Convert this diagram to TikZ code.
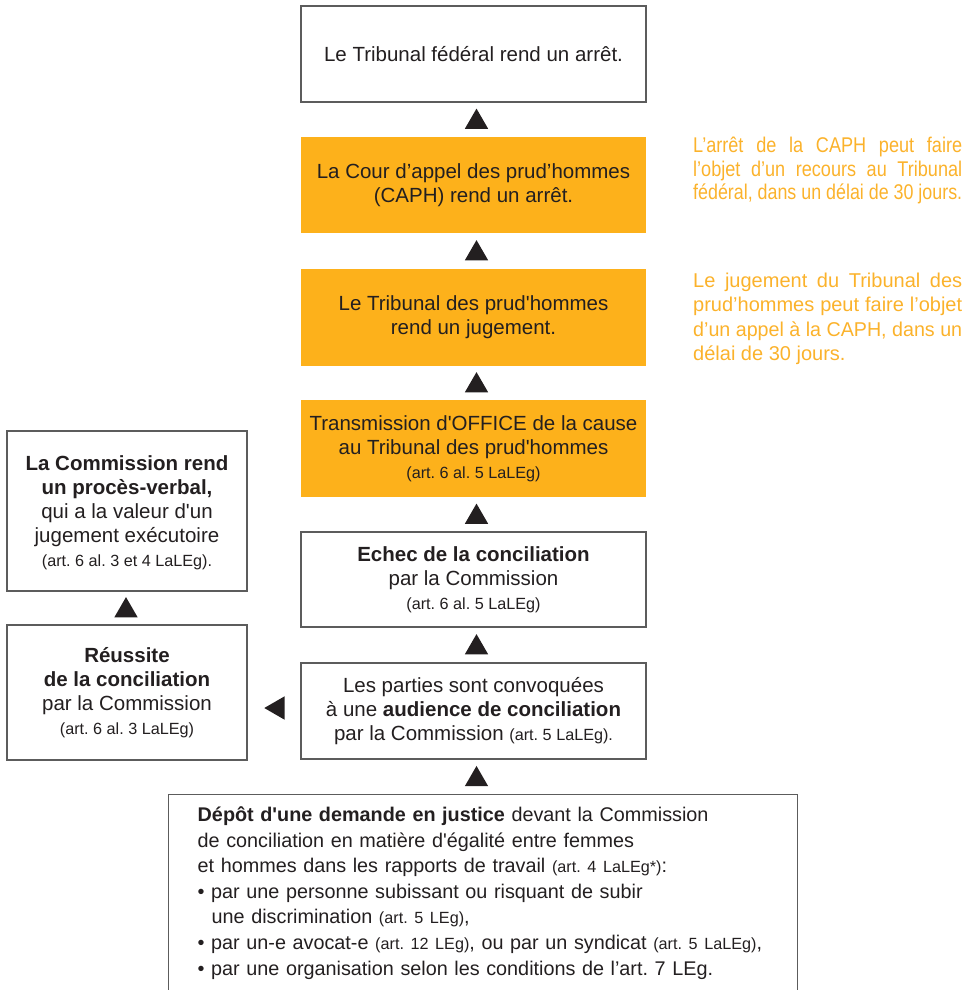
\documentclass[tikz,border=0pt]{standalone}
\usepackage{fontspec}
\usepackage{graphicx}
\setmainfont{Liberation Sans}
\newfontfamily\basefont{Liberation Sans}
\newfontfamily\condfont[FakeStretch=0.85]{Liberation Sans}
\usetikzlibrary{shapes.geometric}
\definecolor{orfill}{HTML}{FDB11B}
\definecolor{ortext}{HTML}{FBB22B}
\definecolor{bord}{HTML}{5C5C5C}
\definecolor{ink}{HTML}{231F20}
\newcommand\sm[1]{{\fontsize{16.2}{24}\selectfont #1}}
\newcommand\jl[1]{\setbox0\hbox{#1}\ifdim\wd0>\linewidth\resizebox{\linewidth}{\height}{#1}\else\makebox[\linewidth][s]{#1}\fi}
\frenchspacing
\begin{document}
\begin{tikzpicture}[x=1pt,y=-1pt,
  box/.style={draw=bord, line width=1.4pt, fill=white, minimum width=345pt, minimum height=96pt,
    align=center, inner sep=0pt, font=\basefont\frenchspacing\fontsize{20.5}{24}\selectfont, text=ink},
  obox/.style={box, draw=none, fill=orfill},
  lbox/.style={box, minimum width=240pt},
  uptri/.style={regular polygon, regular polygon sides=3, minimum size=27pt, inner sep=0pt,
    outer sep=0pt, fill=ink, yshift=-2.6pt},
  ctri/.style={uptri, xshift=3pt},
  lefttri/.style={regular polygon, regular polygon sides=3, shape border rotate=90, minimum size=27pt,
    inner sep=0pt, outer sep=0pt, fill=ink, xshift=3.8pt, yshift=3pt},
  note/.style={anchor=base west, inner sep=0pt, text=ortext},
]
\useasboundingbox (0,0) rectangle (971,990);

\node[box] (fed) at (473.5,54) {Le Tribunal fédéral rend un arrêt.};
\node[obox] (caph) at (473.5,185) {La Cour d’appel des prud’hommes\\(CAPH) rend un arrêt.};
\node[obox, minimum height=97pt] (tph) at (473.5,317.5) {Le Tribunal des prud'hommes\\rend un jugement.};
\node[obox, minimum height=97pt] (trans) at (473.5,448.5) {Transmission d'OFFICE de la cause\\au Tribunal des prud'hommes\\\sm{(art. 6 al. 5 LaLEg)}};
\node[box, minimum height=95pt] (echec) at (473.5,579.5) {\textbf{Echec de la conciliation}\\par la Commission\\\sm{(art. 6 al. 5 LaLEg)}};
\node[box] (parties) at (473.5,711) {Les parties sont convoquées\\à une \textbf{audience de conciliation}\\par la Commission \sm{(art. 5 LaLEg).}};

\node[lbox, minimum height=160pt, text depth=-6pt] (pv) at (127,511) {\textbf{La Commission rend}\\\textbf{un procès-verbal,}\\qui a la valeur d'un\\jugement exécutoire\\\sm{(art. 6 al. 3 et 4 LaLEg).}};
\node[lbox, minimum height=135pt] (reuss) at (127,692.5) {\textbf{Réussite}\\\textbf{de la conciliation}\\par la Commission\\\sm{(art. 6 al. 3 LaLEg)}};

\node[draw=bord, line width=1.4pt, anchor=north west, text width=571pt, align=left,
  inner xsep=29pt, inner ysep=12pt, font=\basefont\frenchspacing\fontsize{19.8}{25.6}\selectfont, text=ink] (depot) at (168,794)
  {\mbox{\textbf{Dépôt d'une demande en justice} devant la Commission}\\
   \mbox{de conciliation en matière d'égalité entre femmes}\\
   \mbox{et hommes dans les rapports de travail \sm{(art. 4 LaLEg*)}:}\\
   \mbox{• par une personne subissant ou risquant de subir}\\
   \mbox{\hspace*{14pt}une discrimination \sm{(art. 5 LEg)},}\\
   \mbox{• par un-e avocat-e \sm{(art. 12 LEg)}, ou par un syndicat \sm{(art. 5 LaLEg)},}\\
   \mbox{• par une organisation selon les conditions de l’art. 7 LEg.}\rule[-40pt]{0pt}{0pt}};

\node[note] (n1) at (693,152.5) {\parbox[t]{269pt}{\condfont\fontsize{21.3}{23.5}\selectfont
  \jl{L’arrêt de la CAPH peut faire}\\
  \jl{l’objet d’un recours au Tribunal}\\
  \jl{fédéral, dans un délai de 30 jours.}}};
\node[note] (n2) at (693,287.5) {\parbox[t]{269pt}{\basefont\fontsize{20}{24.3}\selectfont
  \jl{Le jugement du Tribunal des}\\
  \jl{prud’hommes peut faire l’objet}\\
  \jl{d’un appel à la CAPH, dans un}\\
  délai de 30 jours.}};

\path (caph.north) -- node[ctri] (a1) {} (fed.south);
\path (tph.north) -- node[ctri] (a2) {} (caph.south);
\path (trans.north) -- node[ctri] (a3) {} (tph.south);
\path (echec.north) -- node[ctri] (a4) {} (trans.south);
\path (parties.north) -- node[ctri] (a5) {} (echec.south);
\path (depot.north -| parties.south) -- node[ctri] (a6) {} (parties.south);
\path (reuss.north) -- node[uptri, xshift=-1pt] (a7) {} (pv.south);
\path (parties.west) -- node[lefttri] (a8) {} (parties.west -| reuss.east);
\end{tikzpicture}
\end{document}
